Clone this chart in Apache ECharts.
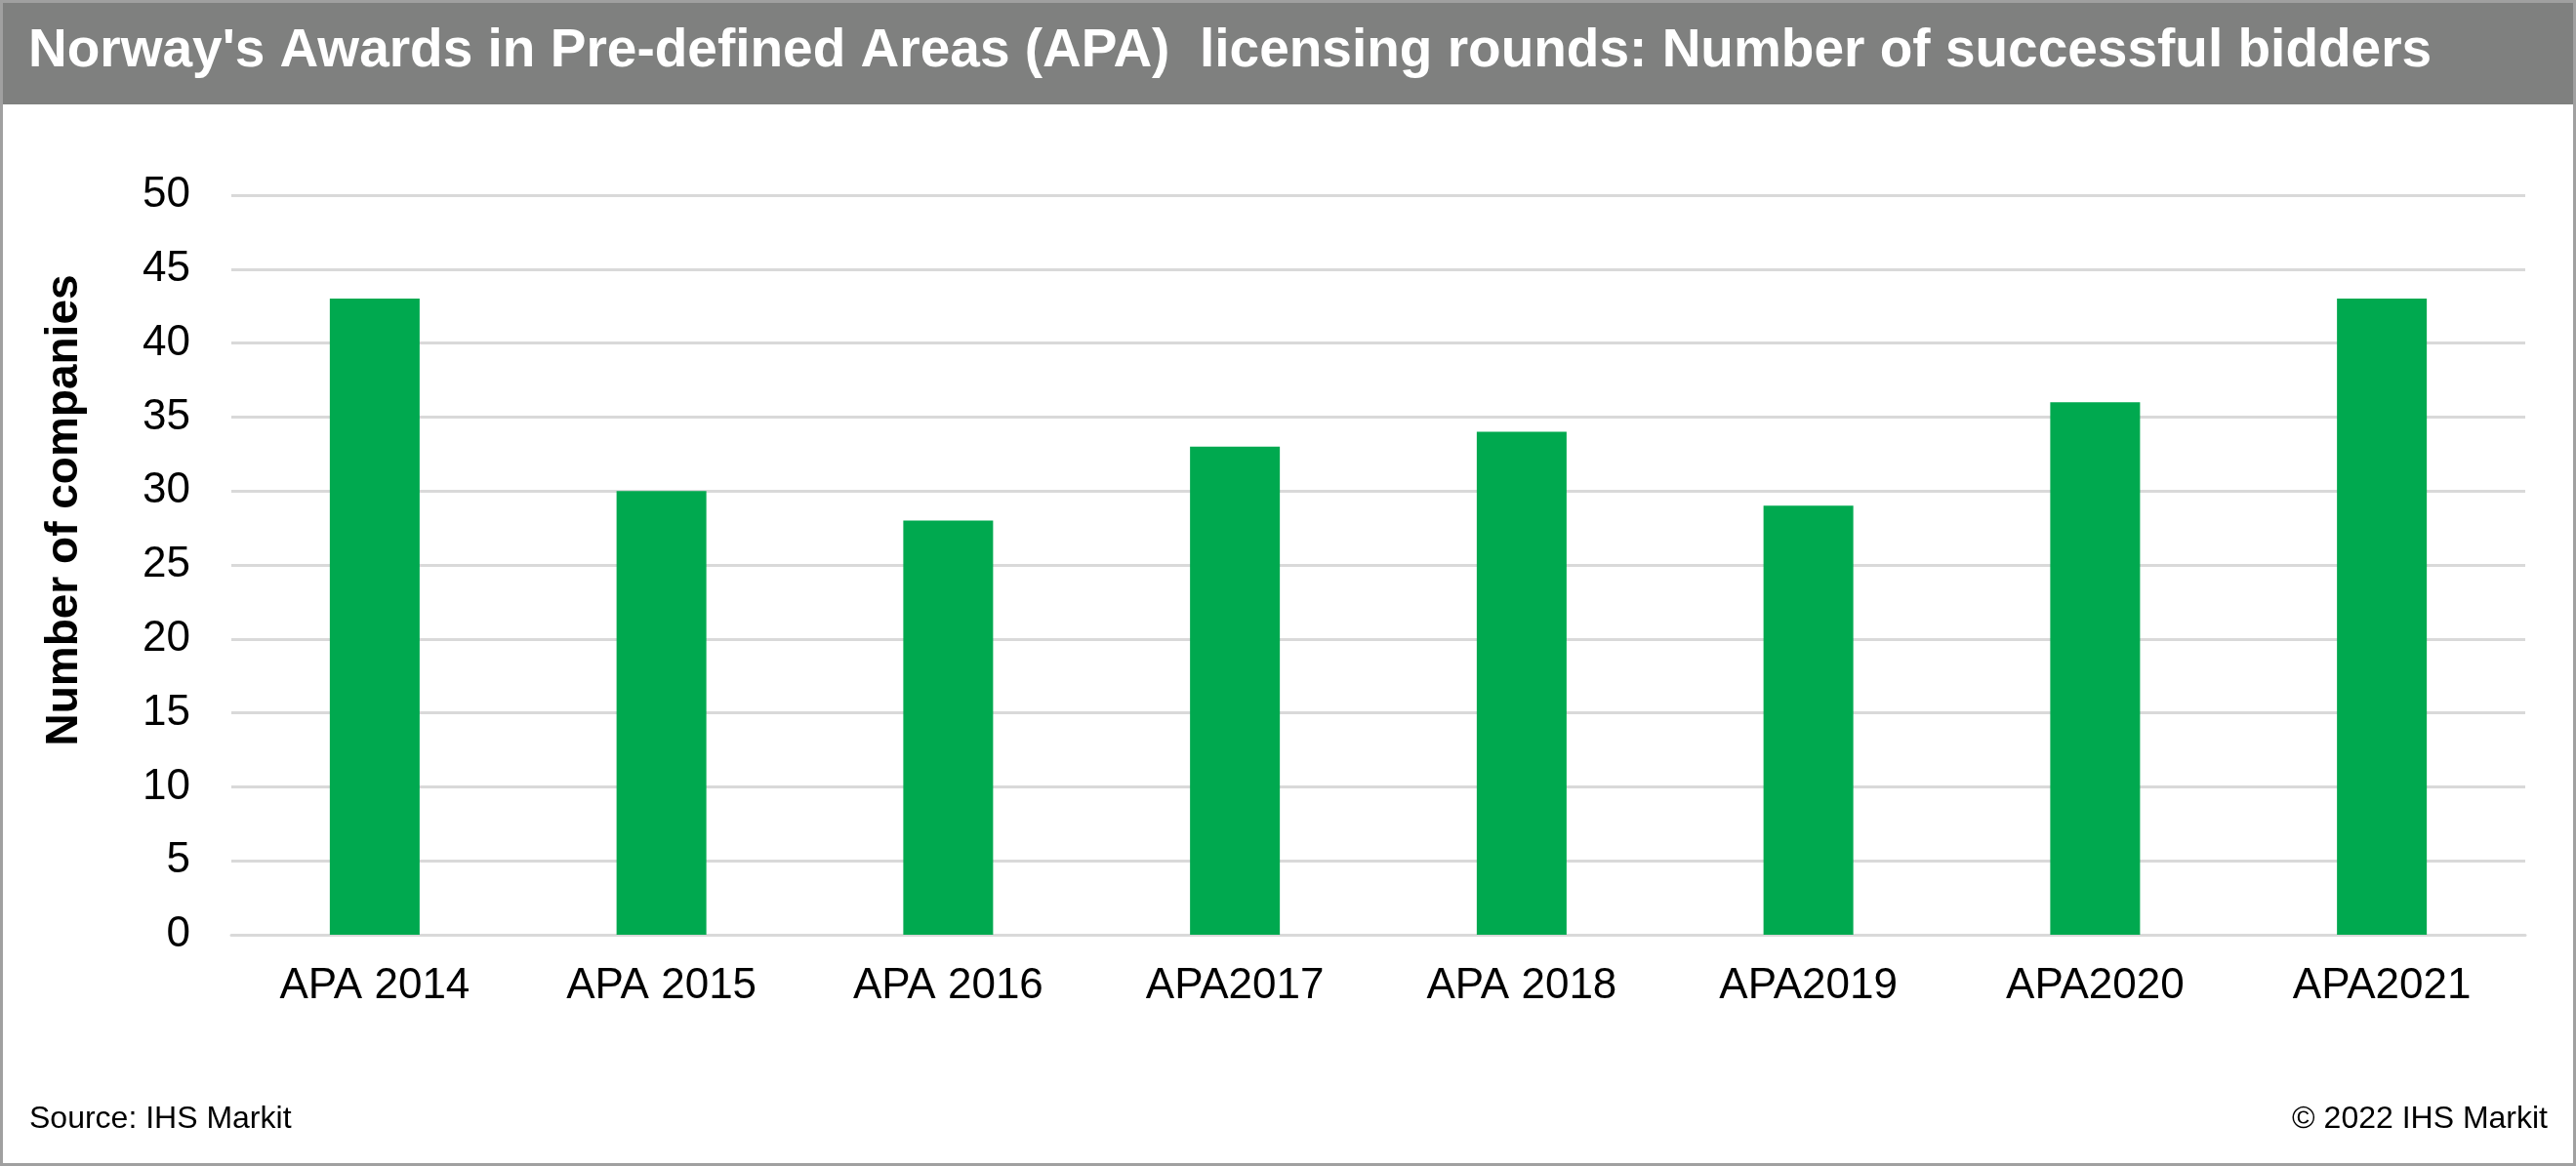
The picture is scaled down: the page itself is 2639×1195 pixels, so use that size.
<!DOCTYPE html>
<html>
<head>
<meta charset="utf-8">
<script src="https://cdn.jsdelivr.net/npm/echarts@6/dist/echarts.min.js"></script>
<style>
html,body{margin:0;padding:0;background:#fff;}
#chart{width:2639px;height:1195px;}
</style>
</head>
<body>
<div id="chart"></div>
<script>
const categories = ['APA 2014', 'APA 2015', 'APA 2016', 'APA2017', 'APA 2018', 'APA2019', 'APA2020', 'APA2021'];
const companies = [43, 30, 28, 33, 34, 29, 36, 43];
const yTicks = { min: 0, max: 50, interval: 5 };
const titleText = "Norway's Awards in Pre-defined Areas (APA)  licensing rounds: Number of successful bidders";
const yAxisName = 'Number of companies';
const sourceText = 'Source: IHS Markit';
const copyrightText = '\u00a9 2022 IHS Markit';

const FONT = 'Liberation Sans, Arial, Helvetica, sans-serif';
const chart = echarts.init(document.getElementById('chart'), null, { renderer: 'canvas' });

chart.setOption({
  animation: false,
  backgroundColor: '#ffffff',
  graphic: [
    { type: 'rect', z: -10, shape: { x: 0, y: 0, width: 2639, height: 107 }, style: { fill: '#7f807f' } },
    { type: 'rect', z: 100, shape: { x: 0, y: 0, width: 2639, height: 1195 }, style: { fill: 'none', stroke: '#a0a0a0', lineWidth: 6 } },
    { type: 'text', left: 29, top: 25, style: { text: titleText, fill: '#ffffff', font: 'bold 55px ' + FONT } },
    { type: 'text', left: 30, top: 1131, style: { text: sourceText, fill: '#000000', font: '32px ' + FONT } },
    { type: 'text', right: 29, top: 1131, style: { text: copyrightText, fill: '#000000', font: '32px ' + FONT } }
  ],
  grid: { left: 237, right: 52, top: 200, bottom: 237, containLabel: false },
  xAxis: {
    type: 'category',
    data: categories,
    axisTick: { show: false },
    axisLine: { show: true, lineStyle: { color: '#d9d9d9', width: 3 } },
    axisLabel: { color: '#000', fontFamily: FONT, fontSize: 44, margin: 31 }
  },
  yAxis: {
    type: 'value',
    min: yTicks.min, max: yTicks.max, interval: yTicks.interval,
    name: yAxisName,
    nameLocation: 'middle',
    nameRotate: 90,
    nameGap: 148,
    nameTextStyle: { color: '#000', fontFamily: FONT, fontSize: 46, fontWeight: 'bold', padding: [0, 0, 0, 112] },
    axisLine: { show: false },
    axisTick: { show: false },
    axisLabel: { color: '#000', fontFamily: FONT, fontSize: 44, margin: 42 },
    splitLine: { show: true, lineStyle: { color: '#d9d9d9', width: 3 } }
  },
  series: [{
    type: 'bar',
    data: companies,
    barWidth: 92,
    itemStyle: { color: '#00a94f' }
  }]
});
</script>
</body>
</html>
